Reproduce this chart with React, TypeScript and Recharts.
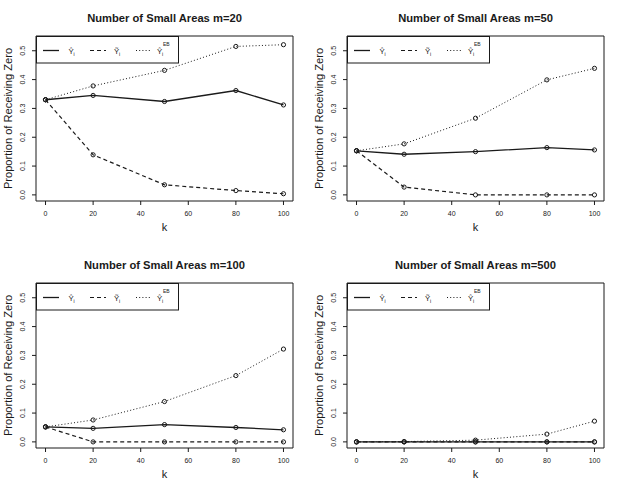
import React from 'react';
import { LineChart, Line, XAxis, YAxis, ReferenceArea } from 'recharts';

const kValues = [0, 20, 50, 80, 100];
const xTicks = [0, 20, 40, 60, 80, 100];
const yTicks = [0, 0.1, 0.2, 0.3, 0.4, 0.5];
const xDomain: [number, number] = [-4, 104];
const yDomain: [number, number] = [-0.0212, 0.5512];
const areaCounts = [20, 50, 100, 500];

const yHatM20 = [0.33, 0.345, 0.324, 0.362, 0.312];
const yTildeM20 = [0.33, 0.139, 0.035, 0.015, 0.004];
const yEbM20 = [0.33, 0.378, 0.432, 0.515, 0.521];

const yHatM50 = [0.153, 0.141, 0.15, 0.164, 0.156];
const yTildeM50 = [0.153, 0.027, 0.0, 0.0, 0.0];
const yEbM50 = [0.153, 0.177, 0.266, 0.399, 0.439];

const yHatM100 = [0.052, 0.047, 0.06, 0.05, 0.042];
const yTildeM100 = [0.052, 0.0, 0.0, 0.0, 0.0];
const yEbM100 = [0.052, 0.076, 0.14, 0.23, 0.322];

const yHatM500 = [0.0, 0.0, 0.0, 0.0, 0.0];
const yTildeM500 = [0.0, 0.0, 0.0, 0.0, 0.0];
const yEbM500 = [0.0, 0.001, 0.006, 0.027, 0.072];

const panelSeries = [
  [yHatM20, yTildeM20, yEbM20],
  [yHatM50, yTildeM50, yEbM50],
  [yHatM100, yTildeM100, yEbM100],
  [yHatM500, yTildeM500, yEbM500],
];

const FONT = '"Liberation Sans", Arial, Helvetica, sans-serif';
const INK = '#1a1a1a';

const W = 311;
const H = 247;

function YTick(props: any) {
  const { x, y, payload } = props;
  return (
    <text
      x={x}
      y={y}
      transform={`rotate(-90 ${x} ${y})`}
      textAnchor="middle"
      fontSize={7}
      fill={INK}
      fontFamily={FONT}
    >
      {Number(payload.value).toFixed(1)}
    </text>
  );
}

function LegendBox() {
  const rowY = 14.5;
  const base = 18.3;
  return (
    <svg width={144} height={28} style={{ position: 'absolute', left: 35.5, top: 35.5, overflow: 'visible' }}>
      <rect x={0.5} y={0.5} width={142} height={26.5} fill="#fff" stroke={INK} strokeWidth={1} />
      <line x1={7} x2={23} y1={rowY} y2={rowY} stroke={INK} strokeWidth={1.3} />
      <line x1={54} x2={70} y1={rowY} y2={rowY} stroke={INK} strokeWidth={1.2} strokeDasharray="4 3" />
      <line x1={100} x2={116} y1={rowY} y2={rowY} stroke={INK} strokeWidth={1} strokeDasharray="1 2.2" />
      <g fontFamily={FONT} fill={INK}>
        <text x={32.5} y={base} fontSize={7.8}>Ŷ</text>
        <text x={37.6} y={base + 1.5} fontSize={5}>i</text>
        <text x={78} y={base} fontSize={7.8}>Ỹ</text>
        <text x={83.1} y={base + 1.5} fontSize={5}>i</text>
        <text x={121} y={base} fontSize={7.8}>Ŷ</text>
        <text x={126.1} y={base + 1.5} fontSize={5}>i</text>
        <text x={127} y={base - 8.8} fontSize={5}>EB</text>
      </g>
    </svg>
  );
}

function Panel({ m, series, left, top }: { m: number; series: number[][]; left: number; top: number }) {
  const [hat, tilde, eb] = series;
  const data = kValues.map((k, i) => ({ k, hat: hat[i], tilde: tilde[i], eb: eb[i] }));
  const dot = { r: 2.1, stroke: INK, strokeWidth: 1, fill: 'none', strokeDasharray: 'none' };
  return (
    <div style={{ position: 'absolute', left, top, width: W, height: H }}>
      <LineChart width={W} height={H} data={data} margin={{ top: 36, right: 18, bottom: 0, left: 0 }}>
        <XAxis
          dataKey="k"
          type="number"
          domain={xDomain}
          ticks={xTicks}
          allowDataOverflow
          height={46}
          axisLine={false}
          tickLine={{ stroke: INK }}
          tickSize={4}
          tickMargin={6}
          tick={{ fontSize: 7, fill: INK, fontFamily: FONT }}
          interval={0}
        />
        <YAxis
          type="number"
          domain={yDomain}
          ticks={yTicks}
          allowDataOverflow
          width={36}
          axisLine={false}
          tickLine={{ stroke: INK }}
          tickSize={4}
          tickMargin={7}
          tick={<YTick />}
          interval={0}
        />
        <ReferenceArea
          x1={xDomain[0]}
          x2={xDomain[1]}
          y1={yDomain[0]}
          y2={yDomain[1]}
          fill="none"
          fillOpacity={0}
          stroke={INK}
          strokeWidth={1}
          ifOverflow="visible"
        />
        <Line dataKey="eb" type="linear" stroke={INK} strokeWidth={1} strokeDasharray="1 2.2" dot={dot} isAnimationActive={false} />
        <Line dataKey="tilde" type="linear" stroke={INK} strokeWidth={1.2} strokeDasharray="4 3" dot={dot} isAnimationActive={false} />
        <Line dataKey="hat" type="linear" stroke={INK} strokeWidth={1.3} dot={dot} isAnimationActive={false} />
      </LineChart>
      <div
        style={{
          position: 'absolute', left: 36, top: 12, width: 257, textAlign: 'center',
          fontFamily: FONT, fontWeight: 'bold', fontSize: 11.2, lineHeight: '13px', color: INK,
        }}
      >
        {`Number of Small Areas m=${m}`}
      </div>
      <div
        style={{
          position: 'absolute', left: 36, top: 221, width: 257, textAlign: 'center',
          fontFamily: FONT, fontSize: 11, lineHeight: '13px', color: INK,
        }}
      >
        k
      </div>
      <div
        style={{
          position: 'absolute', left: 8.5 - 82.5, top: 118.5 - 6.5, width: 165, height: 13, textAlign: 'center',
          fontFamily: FONT, fontSize: 11.1, lineHeight: '13px', color: INK, transform: 'rotate(-90deg)',
          transformOrigin: '50% 50%', whiteSpace: 'nowrap',
        }}
      >
        Proportion of Receiving Zero
      </div>
      <LegendBox />
    </div>
  );
}

const positions = [
  [0, 0],
  [311, 0],
  [0, 247],
  [311, 247],
];

export default function App() {
  return (
    <div style={{ position: 'absolute', left: 0, top: 0, width: 623, height: 494, background: '#fff' }}>
      {areaCounts.map((m, i) => (
        <Panel key={m} m={m} series={panelSeries[i]} left={positions[i][0]} top={positions[i][1]} />
      ))}
    </div>
  );
}
